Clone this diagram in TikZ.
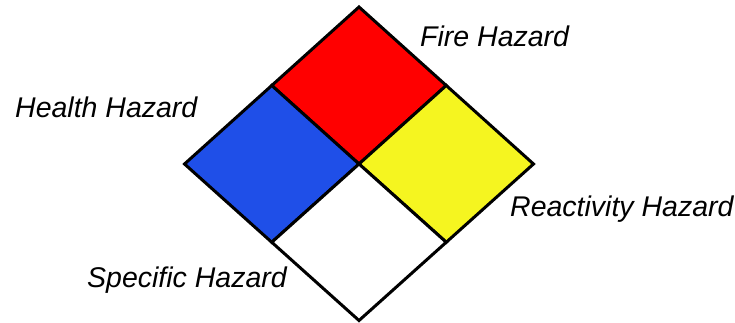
\documentclass[tikz,border=0pt]{standalone}
\usepackage{fontspec}
\setmainfont{Liberation Sans}
\usepackage{xcolor}
\definecolor{hazred}{HTML}{FF0000}
\definecolor{hazblue}{HTML}{1F4FE8}
\definecolor{hazyellow}{HTML}{F5F520}
\usepackage{tikz}
\usetikzlibrary{calc}

\begin{document}
\begin{tikzpicture}[x=1pt, y=1pt,
      quad/.style={draw=black, line width=3pt, line join=miter},
      lbl/.style={anchor=base west, inner sep=0pt, font=\fontsize{28.5}{34}\selectfont\itshape}]
    \useasboundingbox (0,0) rectangle (735,323);
    % corners of the diamond
    \coordinate (c) at (359,159);
    \coordinate (top) at (359,316);
    \coordinate (lft) at (184.5,159);
    \coordinate (rgt) at (533.5,159);
    \coordinate (bot) at (359,2.5);
    \coordinate (tl) at ($(top)!0.5!(lft)$);
    \coordinate (tr) at ($(top)!0.5!(rgt)$);
    \coordinate (bl) at ($(bot)!0.5!(lft)$);
    \coordinate (br) at ($(bot)!0.5!(rgt)$);
    \draw[quad, fill=hazred]    (top) -- (tr) -- (c) -- (tl) -- cycle;
    \draw[quad, fill=hazblue]   (tl) -- (c) -- (bl) -- (lft) -- cycle;
    \draw[quad, fill=hazyellow] (tr) -- (rgt) -- (br) -- (c) -- cycle;
    \draw[quad, fill=white]     (c) -- (br) -- (bot) -- (bl) -- cycle;
    % labels
    \node[lbl] (fire) at (420,276) {Fire Hazard};
    \node[lbl] (health) at (15,205) {Health Hazard};
    \node[lbl] (react) at (510,106) {Reactivity Hazard};
    \node[lbl] (spec) at (87,35) {Specific Hazard};
  \end{tikzpicture}
\end{document}
